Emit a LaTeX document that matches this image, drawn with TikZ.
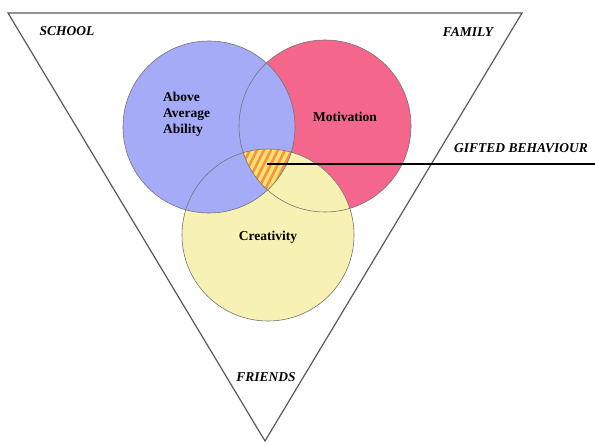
\documentclass[tikz,border=0pt]{standalone}
\usepackage{fontspec}
\setmainfont{Liberation Serif}
\usetikzlibrary{positioning}
\definecolor{abilityblue}{HTML}{A5ABF6}
\definecolor{motivred}{HTML}{F5668C}
\definecolor{creatyellow}{HTML}{F7F2B4}
\definecolor{stripeorange}{HTML}{F6924E}
\definecolor{stripeyellow}{HTML}{FCE36A}

\begin{document}
\begin{tikzpicture}[x=1pt,y=-1pt]
  \tikzset{ring/.style = {draw=black!55,line width=0.6pt}}
  \tikzset{tri/.style = {draw=black!65,line width=1.2pt,line join=miter}}
  \tikzset{lbl/.style = {font=\fontsize{13.5}{16}\selectfont\bfseries,inner sep=0pt}}
  \tikzset{ctx/.style = {inner sep=0pt,font=\fontsize{13.5}{16}\selectfont\bfseries\itshape}}
  \useasboundingbox (0,0) rectangle (595,446);
  \def\rad{86pt}

  \coordinate (ca) at (209,127);
  \coordinate (cm) at (325,126);
  \coordinate (cc) at (268,235);

  \coordinate (tl) at (8,13);
  \coordinate (tr) at (522,13);
  \coordinate (tb) at (265,441);
  \draw[tri] (tl) -- (tr) -- (tb) -- cycle;

  \fill[motivred] (cm) circle (\rad);
  \fill[creatyellow] (cc) circle (\rad);
  \fill[abilityblue] (ca) circle (\rad);

  % where all three meet
  \begin{scope}
    \clip (ca) circle (\rad);
    \clip (cm) circle (\rad);
    \clip (cc) circle (\rad);
    \fill[stripeyellow] (200,100) rectangle (340,220);
    \foreach \s in {0,7,...,140}
      \draw[stripeorange,line width=2.5pt] (180+\s,220) -- (240+\s,100);
  \end{scope}

  \foreach \c in {ca,cm,cc}
    \draw[ring] (\c) circle (\rad);

  \node[ctx] (school) at (67,31) {SCHOOL};
  \node[ctx] (family) at (468,32) {FAMILY};
  \node[ctx] (friends) at (266,377) {FRIENDS};
  \node[ctx] (gifted) at (521,148) {GIFTED BEHAVIOUR};

  \node[lbl,align=left,anchor=west] (ability) at (163,114) {Above\\Average\\Ability};
  \node[lbl] (motiv) at (345,117) {Motivation};
  \node[lbl] (creat) at (268,237) {Creativity};

  \coordinate (core) at (267,164);
  \coordinate (rim) at (595,164);
  \draw[line width=2pt] (core) -- (rim);
\end{tikzpicture}
\end{document}
